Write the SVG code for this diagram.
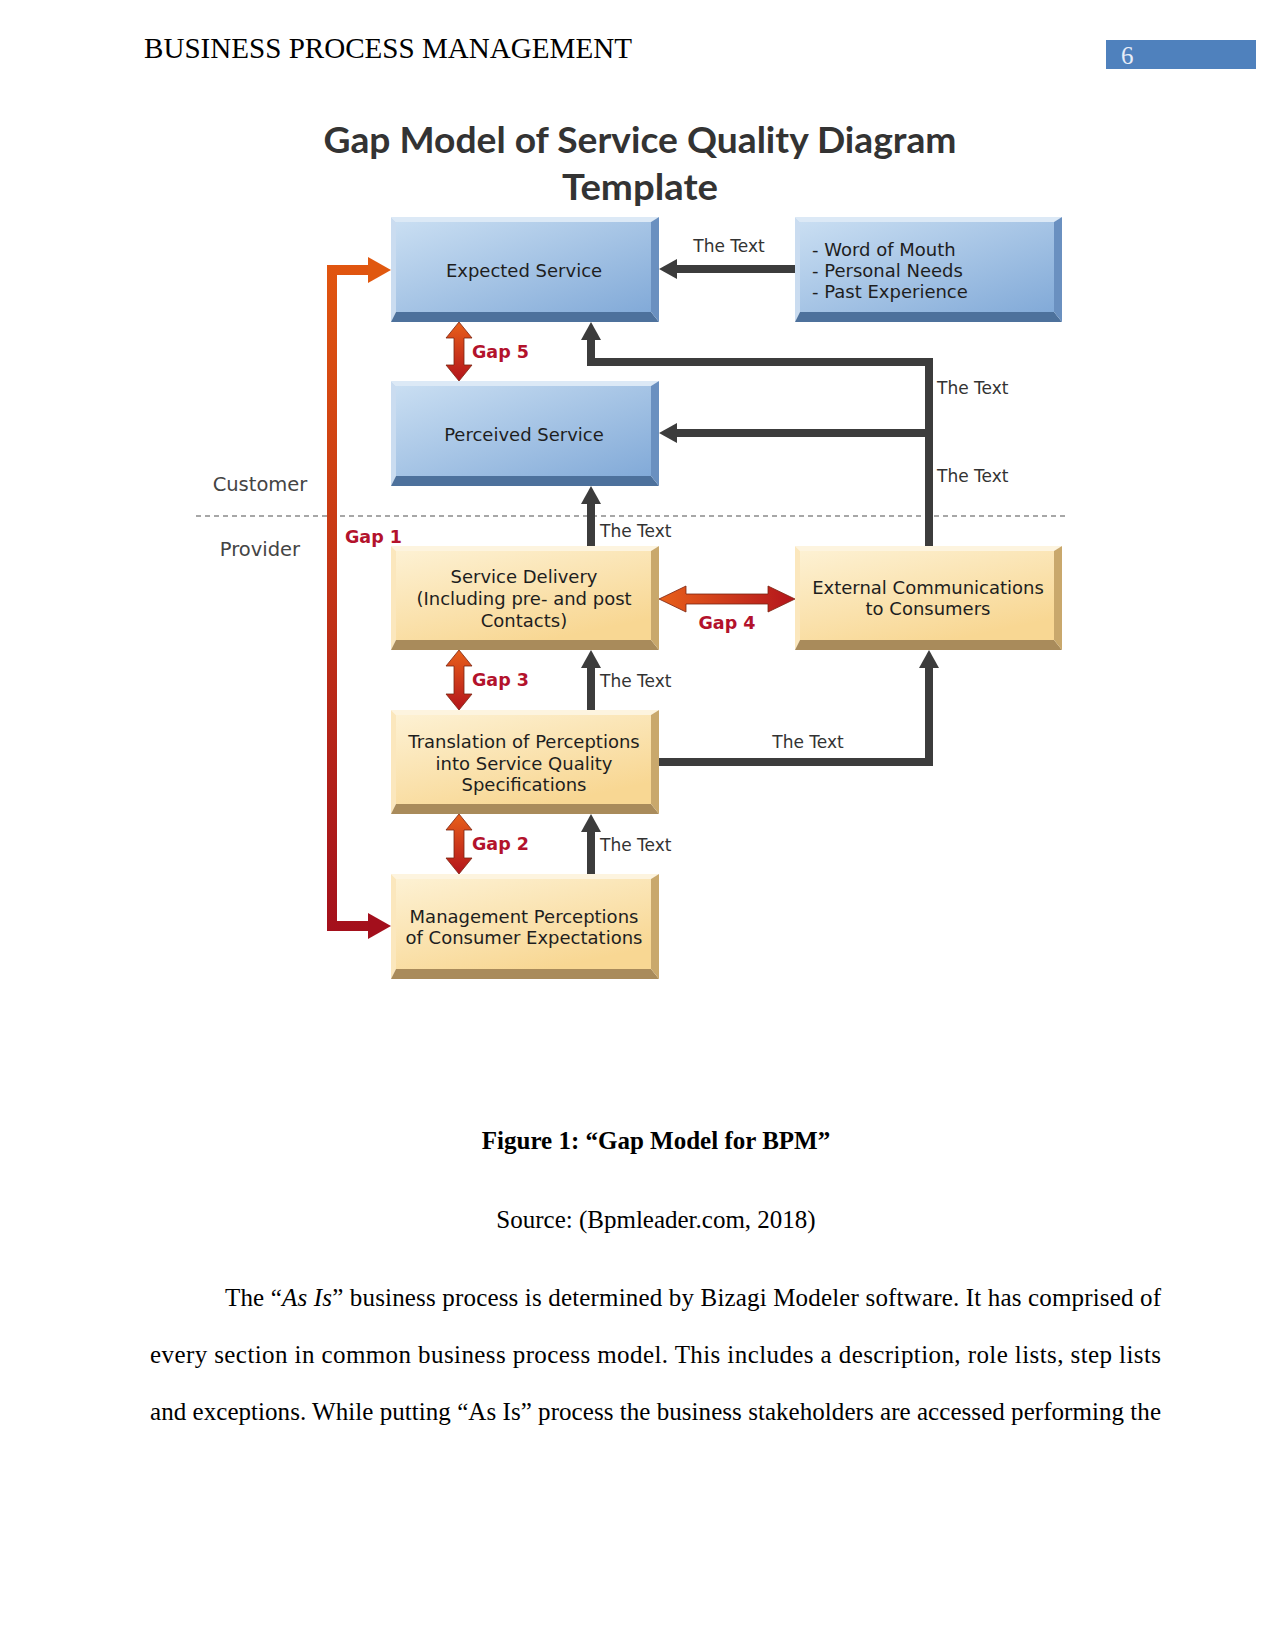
<svg xmlns="http://www.w3.org/2000/svg" width="1275" height="1650" viewBox="0 0 1275 1650">
<style>
.serif{font-family:"Liberation Serif","Times New Roman",serif;fill:#000}
.title{font-family:Lato,"Open Sans",sans-serif;font-weight:bold;font-size:36px;fill:#333;text-anchor:middle}
.bt{font-family:"DejaVu Sans",Verdana,sans-serif;font-size:18px;fill:#1e1e1e;text-anchor:middle}
.bl{font-family:"DejaVu Sans",Verdana,sans-serif;font-size:18px;fill:#1e1e1e;text-anchor:start}
.lbl{font-family:"DejaVu Sans",Verdana,sans-serif;font-size:17px;fill:#333}
.gap{font-family:"DejaVu Sans",Verdana,sans-serif;font-size:17.5px;font-weight:bold;fill:#b3122c}
.side{font-family:"DejaVu Sans",Verdana,sans-serif;font-size:19.5px;fill:#444;text-anchor:middle}
.conn{fill:none;stroke:#3c3c3c;stroke-width:8}
.head{fill:#3c3c3c}
.bTop{fill:#dce9f6}.bLeft{fill:#cadcf0}.bBot{fill:#4d719c}.bRight{fill:#6a90c0}.bFace{fill:url(#gBlue)}
.yTop{fill:#fdf4df}.yLeft{fill:#fbe7bd}.yBot{fill:#a98b5b}.yRight{fill:#c9a86c}.yFace{fill:url(#gYel)}
.dbl{stroke:#7a2310;stroke-width:0.8}
</style>
<defs>
<linearGradient id="gBlue" x1="0" y1="0" x2="1" y2="1">
<stop offset="0" stop-color="#c9def2"/><stop offset="1" stop-color="#82aad8"/>
</linearGradient>
<linearGradient id="gYel" x1="0" y1="0" x2="0.6" y2="1">
<stop offset="0" stop-color="#fdf1d3"/><stop offset="1" stop-color="#f8d793"/>
</linearGradient>
<linearGradient id="gGap1" gradientUnits="userSpaceOnUse" x1="0" y1="250" x2="0" y2="940">
<stop offset="0" stop-color="#e2570f"/><stop offset="1" stop-color="#a30f1c"/>
</linearGradient>
<linearGradient id="gV" x1="0" y1="0" x2="0" y2="1">
<stop offset="0" stop-color="#e8601a"/><stop offset="1" stop-color="#b3141c"/>
</linearGradient>
<linearGradient id="gH" x1="0" y1="0" x2="1" y2="0">
<stop offset="0" stop-color="#e8601a"/><stop offset="1" stop-color="#b3141c"/>
</linearGradient>
</defs>
<rect width="1275" height="1650" fill="#fff"/>

<!-- header -->
<text class="serif" x="144" y="58" font-size="29" textLength="488" lengthAdjust="spacingAndGlyphs">BUSINESS PROCESS MANAGEMENT</text>
<rect x="1106" y="40" width="150" height="29" fill="#4f81bd"/>
<text class="serif" x="1121" y="64" font-size="25" style="fill:#e8eef8">6</text>

<!-- title -->
<text class="title" x="640" y="153" textLength="633" lengthAdjust="spacingAndGlyphs">Gap Model of Service Quality Diagram</text>
<text class="title" x="640" y="200" textLength="156" lengthAdjust="spacingAndGlyphs">Template</text>

<!-- dashed separator and side labels -->
<line x1="196" y1="516" x2="1069" y2="516" stroke="#8a8a8a" stroke-width="1.3" stroke-dasharray="5,4"/>
<text class="side" x="260" y="491">Customer</text>
<text class="side" x="260" y="556">Provider</text>

<!-- connectors -->
<g id="connectors">
<!-- Word of mouth -> Expected -->
<line class="conn" x1="795" y1="269" x2="674" y2="269"/>
<polygon class="head" points="659,269 677,259 677,279"/>
<text class="lbl" x="729" y="252" text-anchor="middle">The Text</text>
<!-- External -> Expected / Perceived -->
<polyline class="conn" points="929,546 929,362 591,362 591,337"/>
<polygon class="head" points="591,322 581,340 601,340"/>
<line class="conn" x1="929" y1="433" x2="674" y2="433"/>
<polygon class="head" points="659,433 677,423 677,443"/>
<text class="lbl" x="937" y="394">The Text</text>
<text class="lbl" x="937" y="482">The Text</text>
<!-- Service Delivery -> Perceived -->
<line class="conn" x1="591" y1="546" x2="591" y2="500"/>
<polygon class="head" points="591,486 581,504 601,504"/>
<text class="lbl" x="600" y="537">The Text</text>
<!-- Translation -> Service Delivery -->
<line class="conn" x1="591" y1="710" x2="591" y2="664"/>
<polygon class="head" points="591,650 581,668 601,668"/>
<text class="lbl" x="600" y="687">The Text</text>
<!-- Translation -> External -->
<polyline class="conn" points="659,762 929,762 929,665"/>
<polygon class="head" points="929,650 919,668 939,668"/>
<text class="lbl" x="808" y="748" text-anchor="middle">The Text</text>
<!-- Management -> Translation -->
<line class="conn" x1="591" y1="874" x2="591" y2="828"/>
<polygon class="head" points="591,814 581,832 601,832"/>
<text class="lbl" x="600" y="851">The Text</text>

<!-- Gap 1 -->
<polyline points="370,270 332,270 332,926 370,926" fill="none" stroke="url(#gGap1)" stroke-width="10"/>
<polygon points="391,270 368,257 368,283" fill="#e0580f"/>
<polygon points="391,926 368,913 368,939" fill="#a30f1c"/>
<text class="gap" x="345" y="543">Gap 1</text>
<!-- Gap 5 -->
<polygon class="dbl" fill="url(#gV)" points="459,322 472,338 464,338 464,365 472,365 459,381 446,365 454,365 454,338 446,338"/>
<text class="gap" x="472" y="358">Gap 5</text>
<!-- Gap 3 -->
<polygon class="dbl" fill="url(#gV)" points="459,650 472,666 464,666 464,694 472,694 459,710 446,694 454,694 454,666 446,666"/>
<text class="gap" x="472" y="686">Gap 3</text>
<!-- Gap 2 -->
<polygon class="dbl" fill="url(#gV)" points="459,814 472,830 464,830 464,858 472,858 459,874 446,858 454,858 454,830 446,830"/>
<text class="gap" x="472" y="850">Gap 2</text>
<!-- Gap 4 -->
<polygon class="dbl" fill="url(#gH)" points="659,599 686,586 686,594 768,594 768,586 795,599 768,612 768,604 686,604 686,612"/>
<text class="gap" x="727" y="629" text-anchor="middle">Gap 4</text>
</g>

<!-- nodes -->
<g id="expected">
<polygon class="bTop" points="391,217 659,217 651,222 396,222"/>
<polygon class="bLeft" points="391,217 396,222 396,312 391,322"/>
<polygon class="bBot" points="391,322 396,312 651,312 659,322"/>
<polygon class="bRight" points="659,217 659,322 651,312 651,222"/>
<rect class="bFace" x="396" y="222" width="255" height="90"/>
<text class="bt" x="524" y="277">Expected Service</text>
</g>
<g id="word">
<polygon class="bTop" points="795,217 1062,217 1054,222 800,222"/>
<polygon class="bLeft" points="795,217 800,222 800,312 795,322"/>
<polygon class="bBot" points="795,322 800,312 1054,312 1062,322"/>
<polygon class="bRight" points="1062,217 1062,322 1054,312 1054,222"/>
<rect class="bFace" x="800" y="222" width="254" height="90"/>
<text class="bl" x="812" y="256">- Word of Mouth</text>
<text class="bl" x="812" y="277">- Personal Needs</text>
<text class="bl" x="812" y="298">- Past Experience</text>
</g>
<g id="perceived">
<polygon class="bTop" points="391,381 659,381 651,386 396,386"/>
<polygon class="bLeft" points="391,381 396,386 396,476 391,486"/>
<polygon class="bBot" points="391,486 396,476 651,476 659,486"/>
<polygon class="bRight" points="659,381 659,486 651,476 651,386"/>
<rect class="bFace" x="396" y="386" width="255" height="90"/>
<text class="bt" x="524" y="441">Perceived Service</text>
</g>
<g id="delivery">
<polygon class="yTop" points="391,546 659,546 651,551 396,551"/>
<polygon class="yLeft" points="391,546 396,551 396,640 391,650"/>
<polygon class="yBot" points="391,650 396,640 651,640 659,650"/>
<polygon class="yRight" points="659,546 659,650 651,640 651,551"/>
<rect class="yFace" x="396" y="551" width="255" height="89"/>
<text class="bt" x="524" y="583">Service Delivery</text>
<text class="bt" x="524" y="605">(Including pre- and post</text>
<text class="bt" x="524" y="627">Contacts)</text>
</g>
<g id="external">
<polygon class="yTop" points="795,546 1062,546 1054,551 800,551"/>
<polygon class="yLeft" points="795,546 800,551 800,640 795,650"/>
<polygon class="yBot" points="795,650 800,640 1054,640 1062,650"/>
<polygon class="yRight" points="1062,546 1062,650 1054,640 1054,551"/>
<rect class="yFace" x="800" y="551" width="254" height="89"/>
<text class="bt" x="928" y="594">External Communications</text>
<text class="bt" x="928" y="615">to Consumers</text>
</g>
<g id="translation">
<polygon class="yTop" points="391,710 659,710 651,715 396,715"/>
<polygon class="yLeft" points="391,710 396,715 396,804 391,814"/>
<polygon class="yBot" points="391,814 396,804 651,804 659,814"/>
<polygon class="yRight" points="659,710 659,814 651,804 651,715"/>
<rect class="yFace" x="396" y="715" width="255" height="89"/>
<text class="bt" x="524" y="748">Translation of Perceptions</text>
<text class="bt" x="524" y="770">into Service Quality</text>
<text class="bt" x="524" y="791">Specifications</text>
</g>
<g id="management">
<polygon class="yTop" points="391,874 659,874 651,879 396,879"/>
<polygon class="yLeft" points="391,874 396,879 396,969 391,979"/>
<polygon class="yBot" points="391,979 396,969 651,969 659,979"/>
<polygon class="yRight" points="659,874 659,979 651,969 651,879"/>
<rect class="yFace" x="396" y="879" width="255" height="90"/>
<text class="bt" x="524" y="923">Management Perceptions</text>
<text class="bt" x="524" y="944">of Consumer Expectations</text>
</g>

<!-- caption and body -->
<text class="serif" x="656" y="1149" font-size="25" font-weight="bold" text-anchor="middle">Figure 1: “Gap Model for BPM”</text>
<text class="serif" x="656" y="1228" font-size="25" text-anchor="middle">Source: (Bpmleader.com, 2018)</text>
<text class="serif" x="225" y="1306" font-size="25" textLength="936" lengthAdjust="spacing">The “<tspan font-style="italic">As Is</tspan>” business process is determined by Bizagi Modeler software. It has comprised of</text>
<text class="serif" x="150" y="1363" font-size="25" textLength="1011" lengthAdjust="spacing">every section in common business process model. This includes a description, role lists, step lists</text>
<text class="serif" x="150" y="1420" font-size="25" textLength="1011" lengthAdjust="spacing">and exceptions. While putting “As Is” process the business stakeholders are accessed performing the</text>
</svg>
